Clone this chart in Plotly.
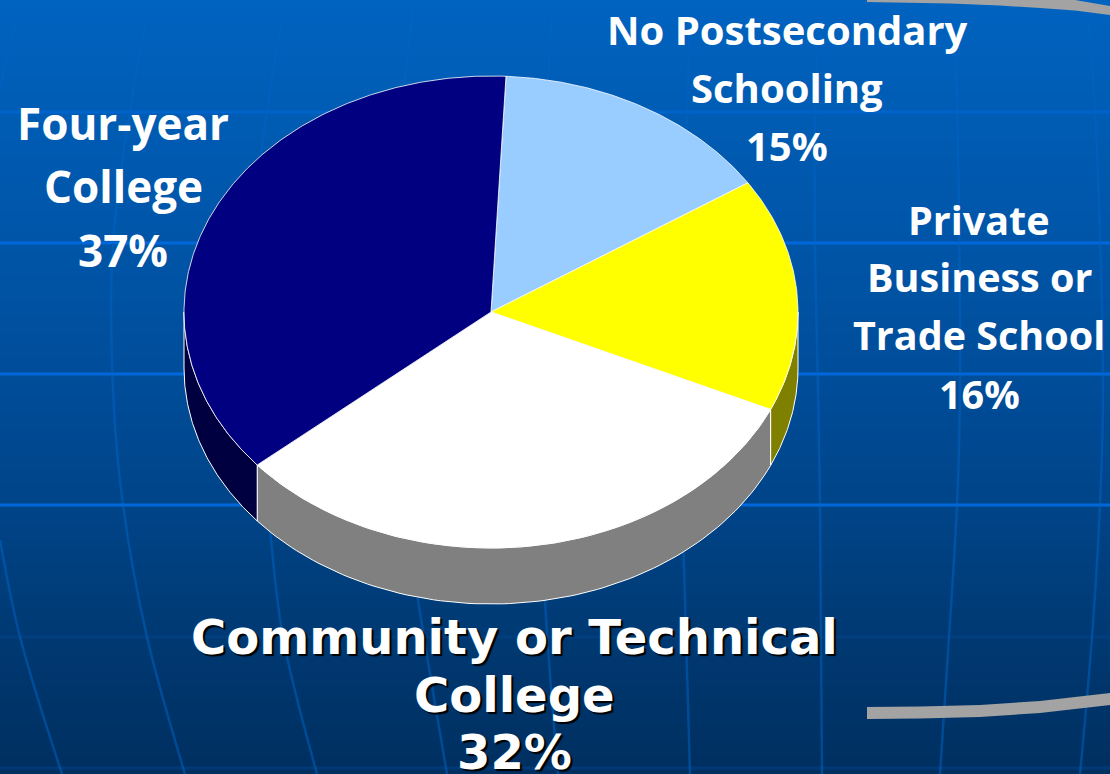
import numpy as np
import plotly.graph_objects as go

# ---- data ----
SEGMENTS = ["No Postsecondary Schooling", "Private Business or Trade School",
            "Community or Technical College", "Four-year College"]
VALUES = [15, 16, 32, 37]
TOP_COLORS = ["#99CCFF", "#FFFF00", "#FFFFFF", "#000080"]
SIDE_COLORS = ["#4D6680", "#808000", "#808080", "#000040"]
LABEL_LINES = [
    ["No Postsecondary", "Schooling", "15%"],
    ["Private", "Business or", "Trade School", "16%"],
    ["Community or Technical", "College", "32%"],
    ["Four-year", "College", "37%"],
]

# ---- layout of the picture (pixels) ----
W, H = 1110, 774
CX, CY, RX, RY, DEPTH = 491, 312, 307, 236, 56
START_DEG = 2.8
LABEL_X = [787, 979, 514, 123]
LABEL_Y = [[29, 87, 145], [220, 277, 335, 394], [637, 695, 752], [123, 186, 250]]
LABEL_FONT = [
    dict(family="Open Sans", size=40, weight=700),
    dict(family="Open Sans", size=39.5, weight=700),
    dict(family="DejaVu Sans", size=48, weight=700, shadow="2px 2px 1px #000000"),
    dict(family="Open Sans", size=44, weight=700),
]

GRAD_Y = [0, 130, 260, 390, 520, 650, 774]
GRAD_RGB = ["#0063C0", "#005BB2", "#0054A6", "#004C98", "#004386", "#003870", "#002F60"]

H_LINES = [112, 243, 374, 505, 637, 768]
H_COLORS = ["rgba(0,104,218,0.6)", "rgba(0,104,218,1)", "rgba(0,104,218,1)", "rgba(0,104,218,1)",
            "rgba(0,100,210,0.12)", "rgba(0,100,210,0.2)"]
V_LINES = [
    ([20, 0], [0, 90]),
    ([0, 20, 62], [540, 637, 774]),
    ([150, 130, 113, 113, 123, 147, 185], [0, 110, 243, 390, 505, 637, 774]),
    ([285, 262, 255, 258, 270, 283, 317], [0, 150, 250, 400, 530, 637, 774]),
    ([414, 398, 392, 396, 405, 418, 447], [0, 150, 300, 420, 510, 600, 774]),
    ([552, 545, 540, 540, 545, 558], [0, 150, 300, 450, 600, 774]),
    ([690, 686, 683, 681, 685, 690], [0, 150, 300, 450, 600, 774]),
    ([820, 815, 815, 818, 820, 822], [0, 120, 243, 390, 505, 774]),
    ([953, 957, 960, 957, 949, 940], [0, 100, 390, 505, 637, 774]),
    ([1087, 1096, 1103, 1100, 1092, 1080], [0, 130, 390, 505, 637, 774]),
]
ARCS = [
    ([867, 1000, 1075, 1095, 1110, 1110, 1075, 1040, 1000, 950, 867], [-2, -2, 0, 3, 6, 15, 10.5, 8, 5.5, 3.5, 2]),
    ([867, 920, 980, 1040, 1110, 1110, 1040, 980, 920, 867], [707, 706.5, 705, 701, 693, 705, 713, 717, 718.5, 719]),
]


def arc(t0, t1, dy=0.0, n=90):
    t = np.radians(np.linspace(t0, t1, n))
    return CX + RX * np.sin(t), CY - RY * np.cos(t) + dy


fig = go.Figure()

# background gradient
fig.add_trace(go.Heatmap(
    x=[-5, W + 5], y=GRAD_Y, z=[[v, v] for v in GRAD_Y], zsmooth="best", showscale=False,
    hoverinfo="skip",
    colorscale=[[y / GRAD_Y[-1], c] for y, c in zip(GRAD_Y, GRAD_RGB)],
))

# grid of the slide background
for y, c in zip(H_LINES, H_COLORS):
    fig.add_trace(go.Scatter(x=[0, W], y=[y, y], mode="lines", line=dict(color=c, width=3),
                             hoverinfo="skip", showlegend=False))
for xs, ys in V_LINES:
    fig.add_trace(go.Scatter(x=xs, y=ys, mode="lines",
                             line=dict(color="rgba(0,100,198,0.5)", width=2.5, shape="spline"),
                             hoverinfo="skip", showlegend=False))
for xs, ys in ARCS:
    fig.add_trace(go.Scatter(x=xs, y=ys, mode="lines", fill="toself", fillcolor="#A3A3A3",
                             line=dict(color="#A3A3A3", width=0),
                             hoverinfo="skip", showlegend=False))

# slice angles from the values
shares = np.array(VALUES, dtype=float) / sum(VALUES) * 360
ends = START_DEG + np.cumsum(shares)
starts = ends - shares

# side wall: only the front half (90..270 degrees) of each slice is visible
for s, e, c, name in zip(starts, ends, SIDE_COLORS, SEGMENTS):
    a, b = max(s, 90), min(e, 270)
    if b <= a:
        continue
    x0, y0 = arc(a, b)
    x1, y1 = arc(b, a, DEPTH)
    fig.add_trace(go.Scatter(
        x=np.r_[x0, x1, x0[0]], y=np.r_[y0, y1, y0[0]], mode="lines", fill="toself", fillcolor=c,
        line=dict(color="white", width=1), hoverinfo="skip", showlegend=False))

# top face
for s, e, c, name, v in zip(starts, ends, TOP_COLORS, SEGMENTS, VALUES):
    x0, y0 = arc(s, e, n=max(int(e - s) * 2, 20))
    fig.add_trace(go.Scatter(
        x=np.r_[CX, x0, CX], y=np.r_[CY, y0, CY], mode="lines", fill="toself", fillcolor=c,
        line=dict(color="white", width=0.8), name=name, text=f"{name}: {v}%", hoverinfo="text",
        showlegend=False))

for lines, x, ys, font in zip(LABEL_LINES, LABEL_X, LABEL_Y, LABEL_FONT):
    for line, y in zip(lines, ys):
        fig.add_annotation(x=x, y=y, xref="x", yref="y", text=line, showarrow=False,
                           xanchor="center", yanchor="middle", font=dict(color="white", **font))

fig.update_layout(
    width=W, height=H, margin=dict(l=0, r=0, t=0, b=0), showlegend=False,
    paper_bgcolor="#004C98", plot_bgcolor="#004C98",
    xaxis=dict(range=[0, W], visible=False, fixedrange=True),
    yaxis=dict(range=[H, 0], visible=False, fixedrange=True),
)
fig.write_html("out.html", config=dict(displayModeBar=False),
               post_script="document.body.style.margin='0';document.body.style.overflow='hidden';")
